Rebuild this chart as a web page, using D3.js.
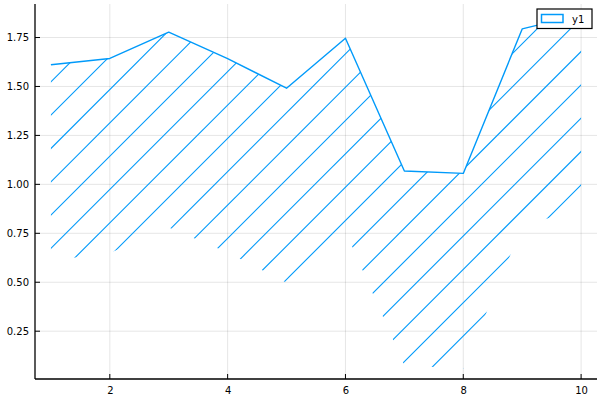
<!DOCTYPE html>
<html>
<head>
<meta charset="utf-8">
<script src="https://cdn.jsdelivr.net/npm/d3@7"></script>
<style>
  body { margin: 0; background: #fff; }
  svg { display: block; font-family: "DejaVu Sans", sans-serif; }
</style>
</head>
<body>
<svg id="chart" width="600" height="400"></svg>
<script>
// ---- data ----
const xs = [1, 2, 3, 4, 5, 6, 7, 8, 9, 10];
const upperValues = [1.611, 1.643, 1.777, 1.642, 1.491, 1.746, 1.068, 1.056, 1.794, 1.867];
const lowerValues = [0.61, 0.65, 0.78, 0.652, 0.497, 0.76, 0.075, 0.06, 0.785, 0.88];
const xTicks = [2, 4, 6, 8, 10];
const yTicks = [0.25, 0.50, 0.75, 1.00, 1.25, 1.50, 1.75];
const seriesName = "y1";

(function () {
const color = "rgb(0,154,250)";
const W = 600, H = 400;
const pLeft = 35, pRight = 597, pTop = 4, pBottom = 379;

const svg = d3.select("#chart");

const xMin = d3.min(xs), xMax = d3.max(xs);
const xPad = (xMax - xMin) * 0.03;
const yMin = Math.min(d3.min(upperValues), d3.min(lowerValues));
const yMax = Math.max(d3.max(upperValues), d3.max(lowerValues));
const yPad = (yMax - yMin) * 0.03;

const x = d3.scaleLinear().domain([xMin - xPad, xMax + xPad]).range([pLeft, pRight]);
const y = d3.scaleLinear().domain([yMin - yPad, yMax + yPad]).range([pBottom, pTop]);

const data = xs.map((v, i) => ({ x: v, hi: upperValues[i], lo: lowerValues[i] }));

// grid
const grid = svg.append("g");
grid.selectAll("line.gx").data(xTicks).join("line")
  .attr("x1", d => x(d)).attr("x2", d => x(d))
  .attr("y1", pTop).attr("y2", pBottom)
  .attr("stroke", "#000").attr("stroke-opacity", 0.1).attr("stroke-width", 1);
grid.selectAll("line.gy").data(yTicks).join("line")
  .attr("x1", pLeft).attr("x2", pRight)
  .attr("y1", d => y(d)).attr("y2", d => y(d))
  .attr("stroke", "#000").attr("stroke-opacity", 0.1).attr("stroke-width", 1);

// hatched fill between lower and upper
const area = d3.area().x(d => x(d.x)).y0(d => y(d.lo)).y1(d => y(d.hi));
svg.append("clipPath").attr("id", "fillclip")
  .append("path").attr("d", area(data));

const spacing = 33.33, offset = 32.7;
const hatchC = d3.range(0, 36).map(k => offset + k * spacing);
svg.append("g").attr("clip-path", "url(#fillclip)")
  .selectAll("line").data(hatchC).join("line")
  .attr("x1", c => c - H).attr("y1", H)
  .attr("x2", c => c).attr("y2", 0)
  .attr("stroke", color).attr("stroke-width", 1.1);

// series line
svg.append("path")
  .attr("d", d3.line().x(d => x(d.x)).y(d => y(d.hi))(data))
  .attr("fill", "none").attr("stroke", color).attr("stroke-width", 1.4)
  .attr("stroke-linejoin", "round");

// axes
const xAxis = d3.axisBottom(x).tickValues(xTicks).tickSize(0).tickPadding(8).tickFormat(d3.format("d"));
const gx = svg.append("g").attr("transform", `translate(0,${pBottom})`).call(xAxis);
gx.select(".domain").remove();
gx.selectAll("text").attr("font-size", 10).attr("fill", "#000").attr("font-family", "DejaVu Sans");

const yAxis = d3.axisLeft(y).tickValues(yTicks).tickSize(0).tickPadding(6).tickFormat(d3.format(".2f"));
const gy = svg.append("g").attr("transform", `translate(${pLeft},0)`).call(yAxis);
gy.select(".domain").remove();
gy.selectAll("text").attr("font-size", 10).attr("fill", "#000").attr("font-family", "DejaVu Sans");

// axis lines and inward ticks
const ax = svg.append("g").attr("stroke", "#000");
ax.append("line").attr("x1", pLeft).attr("x2", pLeft).attr("y1", pTop).attr("y2", pBottom).attr("stroke-width", 1.3);
ax.append("line").attr("x1", pLeft).attr("x2", pRight).attr("y1", pBottom).attr("y2", pBottom).attr("stroke-width", 1.3);
ax.selectAll("line.tx").data(xTicks).enter().append("line")
  .attr("x1", d => x(d)).attr("x2", d => x(d)).attr("y1", pBottom).attr("y2", pBottom - 5).attr("stroke-width", 1);
ax.selectAll("line.ty").data(yTicks).enter().append("line")
  .attr("x1", pLeft).attr("x2", pLeft + 5).attr("y1", d => y(d)).attr("y2", d => y(d)).attr("stroke-width", 1);

// legend
const lg = svg.append("g");
lg.append("rect").attr("x", 537).attr("y", 9).attr("width", 55).attr("height", 19.5)
  .attr("fill", "#fff").attr("stroke", "#000").attr("stroke-width", 1.2);
lg.append("rect").attr("x", 541.5).attr("y", 14.5).attr("width", 21.5).attr("height", 8)
  .attr("fill", "#fff").attr("stroke", color).attr("stroke-width", 1.5);
lg.append("text").attr("x", 572).attr("y", 22.5).attr("font-size", 10)
  .attr("fill", "#000").text(seriesName);
})();
</script>
</body>
</html>
